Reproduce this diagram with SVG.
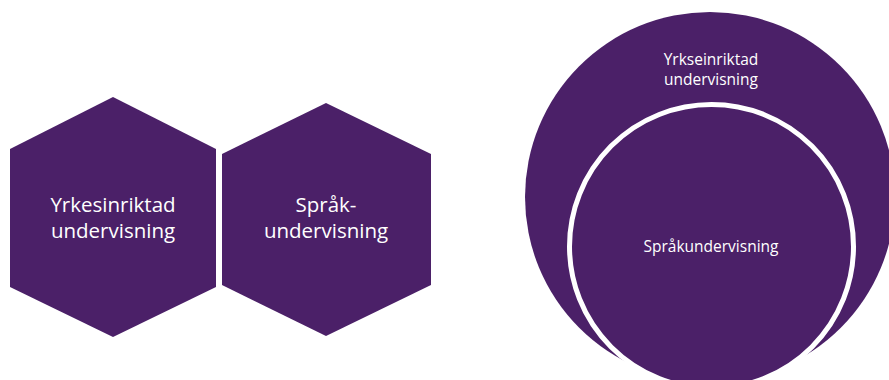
<svg xmlns="http://www.w3.org/2000/svg" width="889" height="380" viewBox="0 0 889 380">
<style>
.shape{fill:#4b2068}
.t{font-family:"Open Sans","Liberation Sans",sans-serif;fill:#ffffff;text-anchor:middle}
.big{font-size:20.5px}
.small{font-size:15.5px}
</style>
<rect width="889" height="380" fill="#ffffff"/>
<g id="hex-yrkes">
<polygon class="shape" points="113,97 216,149 216,287 113,337 10,287 10,149"/>
<text class="t big" x="113" y="212">Yrkesinriktad</text>
<text class="t big" x="113" y="238">undervisning</text>
</g>
<g id="hex-sprak">
<polygon class="shape" points="326,103 431,154 431,285 326,336 222,285 222,154"/>
<text class="t big" x="326" y="212">Språk-</text>
<text class="t big" x="326" y="238">undervisning</text>
</g>
<g id="outer-circle">
<circle class="shape" cx="710" cy="197" r="185"/>
<text class="t small" x="711" y="65">Yrkseinriktad</text>
<text class="t small" x="711" y="85">undervisning</text>
</g>
<g id="inner-circle">
<circle class="shape" cx="711.5" cy="246.5" r="142" stroke="#ffffff" stroke-width="5"/>
<text class="t small" x="711" y="252">Språkundervisning</text>
</g>
<g id="connectors"/>
</svg>
